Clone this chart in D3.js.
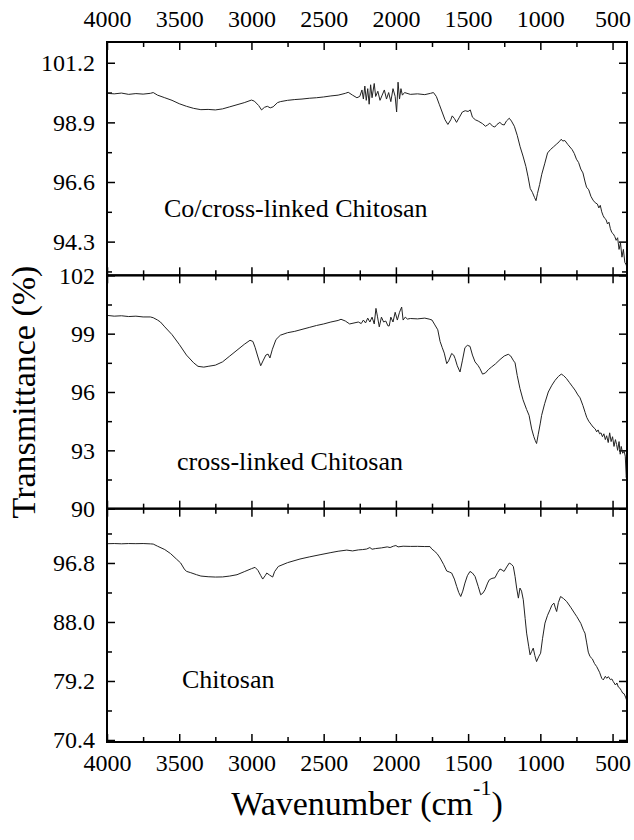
<!DOCTYPE html>
<html>
<head>
<meta charset="utf-8">
<script src="https://cdn.jsdelivr.net/npm/d3@7"></script>
<style>
  body { margin: 0; background: #fff; }
</style>
</head>
<body>
<svg id="chart" width="634" height="840"></svg>
<script>
// FTIR spectra, [wavenumber cm-1, transmittance %]
const coCrossLinked = [
  [4000, 100.02], [3950, 100.0], [3900, 100.03], [3850, 99.98], [3800, 100.01], [3750, 99.99],
  [3700, 100.02], [3680, 100.05], [3650, 99.95], [3600, 99.85], [3550, 99.75], [3500, 99.62],
  [3450, 99.52], [3400, 99.44], [3350, 99.39], [3300, 99.4], [3250, 99.38], [3200, 99.42],
  [3150, 99.5], [3100, 99.58], [3050, 99.66], [3000, 99.76], [2980, 99.72], [2950, 99.55],
  [2930, 99.38], [2910, 99.48], [2890, 99.52], [2870, 99.46], [2850, 99.5], [2820, 99.66],
  [2800, 99.7], [2750, 99.75], [2700, 99.78], [2650, 99.8], [2600, 99.83], [2550, 99.85],
  [2500, 99.88], [2450, 99.92], [2400, 99.95], [2350, 100.02], [2330, 100.06], [2300, 99.95],
  [2270, 99.85], [2250, 99.9], [2235, 100.15], [2225, 99.8], [2215, 100.3], [2205, 99.75],
  [2195, 100.2], [2185, 99.6], [2175, 100.35], [2165, 99.85], [2150, 100.4], [2140, 99.9],
  [2125, 100.1], [2110, 99.75], [2095, 99.95], [2080, 100.15], [2065, 99.8], [2050, 100.05],
  [2035, 99.7], [2020, 100.2], [2005, 99.9], [1995, 99.3], [1985, 100.45], [1975, 99.8],
  [1965, 100.2], [1955, 99.95], [1940, 100.05], [1900, 99.98], [1850, 100.0], [1800, 99.97],
  [1760, 100.02], [1740, 100.05], [1720, 99.9], [1700, 99.6], [1680, 99.3], [1660, 99.0],
  [1640, 98.82], [1620, 99.0], [1610, 99.15], [1595, 99.05], [1580, 98.9], [1560, 99.1],
  [1540, 99.3], [1520, 99.35], [1500, 99.32], [1485, 99.38], [1470, 99.1], [1450, 99.0],
  [1430, 98.95], [1400, 98.85], [1380, 98.75], [1365, 98.8], [1350, 98.87], [1330, 98.75],
  [1315, 98.72], [1300, 98.82], [1280, 98.9], [1265, 98.82], [1250, 98.8], [1235, 98.95],
  [1215, 99.06], [1200, 98.95], [1180, 98.75], [1160, 98.4], [1140, 97.96], [1120, 97.6],
  [1100, 97.2], [1085, 96.8], [1070, 96.35], [1055, 96.2], [1040, 96.0], [1030, 95.88],
  [1020, 96.15], [1005, 96.5], [990, 96.9], [970, 97.3], [950, 97.72], [930, 97.85],
  [910, 97.95], [890, 98.05], [870, 98.15], [855, 98.25], [845, 98.18], [830, 98.2],
  [810, 98.05], [795, 97.95], [780, 97.85], [765, 97.7], [750, 97.48], [735, 97.35],
  [720, 97.1], [705, 96.95], [690, 96.6], [680, 96.4], [665, 96.3], [650, 96.05],
  [635, 95.9], [620, 95.8], [605, 95.75], [595, 95.6], [585, 95.7], [575, 95.45],
  [565, 95.3], [555, 95.2], [545, 95.15], [535, 94.98], [525, 95.05], [515, 94.8],
  [505, 94.65], [495, 94.6], [485, 94.5], [475, 94.35], [465, 94.45], [455, 94.0],
  [445, 94.25], [435, 93.7], [425, 94.0], [415, 93.5], [405, 93.4], [400, 93.25]
];

const crossLinked = [
  [4000, 99.94], [3950, 99.9], [3900, 99.92], [3850, 99.88], [3800, 99.9], [3750, 99.86],
  [3700, 99.86], [3680, 99.82], [3650, 99.7], [3630, 99.6], [3600, 99.35], [3550, 98.95],
  [3500, 98.45], [3450, 97.9], [3400, 97.5], [3370, 97.32], [3330, 97.28], [3300, 97.32],
  [3250, 97.38], [3200, 97.55], [3150, 97.85], [3100, 98.15], [3050, 98.45], [3010, 98.66],
  [2990, 98.6], [2975, 98.3], [2955, 97.8], [2936, 97.35], [2920, 97.6], [2900, 97.9],
  [2885, 97.95], [2872, 97.75], [2855, 98.2], [2830, 98.7], [2800, 98.92], [2750, 99.05],
  [2700, 99.12], [2650, 99.22], [2600, 99.32], [2550, 99.42], [2500, 99.5], [2450, 99.6],
  [2400, 99.68], [2380, 99.74], [2350, 99.65], [2320, 99.5], [2290, 99.55], [2260, 99.6],
  [2240, 99.52], [2225, 99.7], [2210, 99.55], [2195, 99.8], [2180, 99.6], [2165, 99.85],
  [2150, 99.5], [2138, 100.3], [2128, 99.9], [2115, 99.35], [2100, 99.85], [2085, 99.6],
  [2070, 99.65], [2055, 99.4], [2046, 99.4], [2035, 99.85], [2020, 99.6], [2005, 100.1],
  [1990, 99.7], [1975, 100.1], [1960, 100.37], [1950, 99.7], [1935, 99.85], [1920, 99.75],
  [1900, 99.78], [1850, 99.76], [1800, 99.8], [1770, 99.75], [1750, 99.7], [1730, 99.45],
  [1710, 99.2], [1694, 98.6], [1680, 98.3], [1665, 98.0], [1648, 97.46], [1635, 97.6],
  [1614, 97.98], [1600, 97.9], [1590, 97.72], [1575, 97.35], [1556, 97.03], [1540, 97.6],
  [1522, 98.28], [1505, 98.4], [1487, 98.35], [1470, 97.9], [1452, 97.55], [1430, 97.35],
  [1418, 97.2], [1400, 96.92], [1380, 96.98], [1360, 97.15], [1337, 97.29], [1310, 97.45],
  [1279, 97.67], [1250, 97.85], [1222, 97.94], [1205, 97.85], [1185, 97.6], [1175, 97.5],
  [1160, 96.85], [1141, 96.18], [1120, 95.6], [1095, 95.1], [1078, 94.8], [1060, 94.1],
  [1045, 93.7], [1035, 93.5], [1026, 93.35], [1015, 93.8], [1000, 94.4], [991, 94.8],
  [970, 95.4], [945, 96.0], [920, 96.35], [898, 96.6], [875, 96.8], [855, 96.92],
  [840, 96.85], [820, 96.7], [800, 96.5], [780, 96.3], [760, 96.1], [740, 95.85],
  [725, 95.7], [705, 95.3], [690, 94.95], [679, 94.7], [665, 94.5], [650, 94.35],
  [635, 94.2], [620, 94.1], [610, 93.95], [600, 94.05], [590, 93.85], [580, 93.9],
  [570, 93.7], [560, 93.85], [550, 93.55], [541, 93.75], [530, 93.4], [520, 93.9],
  [510, 93.45], [500, 93.7], [490, 93.2], [480, 93.55], [472, 93.3], [465, 93.0],
  [455, 93.45], [447, 92.8], [440, 93.2], [430, 92.85], [420, 92.95], [412, 92.7],
  [405, 91.6], [400, 91.9]
];

const chitosan = [
  [4000, 99.67], [3950, 99.7], [3900, 99.66], [3850, 99.7], [3800, 99.68], [3750, 99.7],
  [3700, 99.65], [3680, 99.62], [3650, 99.3], [3600, 98.8], [3560, 98.2], [3520, 97.4],
  [3490, 96.8], [3465, 95.9], [3450, 95.55], [3420, 95.35], [3380, 95.05], [3350, 94.85],
  [3300, 94.75], [3250, 94.7], [3200, 94.72], [3150, 94.85], [3100, 95.05], [3050, 95.5],
  [3000, 95.95], [2975, 96.15], [2955, 95.7], [2935, 94.9], [2922, 94.4], [2905, 94.9],
  [2894, 95.3], [2875, 95.0], [2853, 94.7], [2840, 95.5], [2814, 96.28], [2750, 96.85],
  [2664, 97.39], [2600, 97.7], [2525, 98.03], [2450, 98.35], [2400, 98.55], [2340, 98.72],
  [2300, 98.6], [2260, 98.75], [2230, 98.8], [2202, 98.88], [2180, 99.1], [2165, 98.85],
  [2140, 98.95], [2100, 99.05], [2060, 99.2], [2040, 99.1], [2018, 99.3], [2000, 99.4],
  [1985, 99.2], [1950, 99.3], [1900, 99.27], [1850, 99.28], [1800, 99.25], [1764, 99.25],
  [1752, 98.9], [1735, 98.6], [1715, 98.2], [1694, 97.54], [1670, 96.6], [1648, 95.6],
  [1630, 95.45], [1614, 95.3], [1595, 94.4], [1579, 93.3], [1565, 92.4], [1551, 91.8],
  [1537, 92.6], [1522, 93.8], [1505, 94.9], [1487, 95.54], [1470, 95.3], [1452, 94.79],
  [1430, 93.3], [1413, 92.06], [1398, 92.3], [1383, 92.8], [1365, 93.8], [1353, 94.3],
  [1335, 94.5], [1314, 94.6], [1295, 95.4], [1279, 95.9], [1265, 95.75], [1251, 95.54],
  [1233, 96.2], [1215, 96.79], [1200, 96.6], [1187, 96.28], [1175, 94.8], [1164, 93.06],
  [1152, 91.56], [1141, 93.06], [1130, 92.6], [1118, 91.31], [1105, 88.5], [1095, 86.34],
  [1080, 84.3], [1071, 83.1], [1060, 83.6], [1049, 84.1], [1038, 83.0], [1026, 82.09],
  [1012, 82.8], [998, 83.35], [985, 85.5], [968, 87.83], [950, 89.0], [933, 89.82],
  [920, 90.5], [906, 90.82], [896, 90.1], [887, 89.56], [875, 90.9], [860, 91.8],
  [840, 91.5], [818, 91.06], [790, 90.2], [760, 89.2], [748, 88.82], [720, 87.8],
  [700, 86.7], [691, 86.34], [680, 85.0], [668, 83.5], [656, 82.84], [640, 82.5],
  [625, 81.8], [610, 81.35], [590, 80.5], [575, 79.6], [564, 79.36], [550, 79.9],
  [540, 79.6], [529, 79.85], [515, 79.4], [505, 79.5], [495, 79.11], [480, 78.6],
  [470, 78.9], [460, 78.3], [449, 78.12], [440, 77.8], [430, 77.4], [420, 77.3],
  [410, 76.8], [403, 76.37], [400, 76.3]
];

const sampleNames = ["Co/cross-linked Chitosan", "cross-linked Chitosan", "Chitosan"];

const xTicks = [4000, 3500, 3000, 2500, 2000, 1500, 1000, 500];
const xMinorTicks = [3750, 3250, 2750, 2250, 1750, 1250, 750];

const yTicks = [
  [94.3, 96.6, 98.9, 101.2],
  [90, 93, 96, 99, 102],
  [70.4, 79.2, 88.0, 96.8]
];
const yMinorTicks = [
  [93.15, 95.45, 97.75, 100.05],
  [91.5, 94.5, 97.5, 100.5],
  [74.8, 83.6, 92.4, 101.2]
];
const yFormats = [".1f", "d", ".1f"];

const serif = "'Liberation Serif', 'DejaVu Serif', serif";

const svg = d3.select("#chart");
const plot = { left: 107, right: 627, top: 42, bottom: 742 };
const panelH = (plot.bottom - plot.top) / 3;

const x = d3.scaleLinear().domain([4000, 400]).range([plot.left, plot.right]);

const panels = [
  { data: coCrossLinked, domain: [93.0, 102.0], label: [164, 175] },
  { data: crossLinked, domain: [90, 102], label: [177, 195] },
  { data: chitosan, domain: [70.1, 104.9], label: [182, 179] }
];

const major = 8, minor = 5;

function styleAxis(g) {
  g.select(".domain").remove();
  g.attr("font-family", serif).attr("font-size", 24);
  g.selectAll("line").attr("stroke", "#000").attr("stroke-width", 1.5);
  g.selectAll("text").attr("fill", "#000")
    .style("font-family", serif).style("font-size", "24px");
}

panels.forEach((p, i) => {
  const top = plot.top + i * panelH;
  const bottom = top + panelH;
  const y = d3.scaleLinear().domain(p.domain).range([bottom, top]);
  const g = svg.append("g");

  // left axis, labelled
  g.append("g")
    .attr("transform", `translate(${plot.left},0)`)
    .call(d3.axisLeft(y).tickValues(yTicks[i]).tickSize(-major).tickPadding(12)
      .tickFormat(d3.format(yFormats[i])))
    .call(styleAxis);
  g.append("g")
    .attr("transform", `translate(${plot.left},0)`)
    .call(d3.axisLeft(y).tickValues(yMinorTicks[i]).tickSize(-minor).tickFormat(""))
    .call(styleAxis);

  // right axis, ticks only
  g.append("g")
    .attr("transform", `translate(${plot.right},0)`)
    .call(d3.axisRight(y).tickValues(yTicks[i]).tickSize(-major).tickFormat(""))
    .call(styleAxis);
  g.append("g")
    .attr("transform", `translate(${plot.right},0)`)
    .call(d3.axisRight(y).tickValues(yMinorTicks[i]).tickSize(-minor).tickFormat(""))
    .call(styleAxis);

  // top and bottom ticks, labels only on the outer edges
  g.append("g")
    .attr("transform", `translate(0,${top})`)
    .call(d3.axisTop(x).tickValues(xTicks).tickSize(-major).tickPadding(15)
      .tickFormat(i === 0 ? d3.format("d") : ""))
    .call(styleAxis);
  g.append("g")
    .attr("transform", `translate(0,${top})`)
    .call(d3.axisTop(x).tickValues(xMinorTicks).tickSize(-minor).tickFormat(""))
    .call(styleAxis);
  g.append("g")
    .attr("transform", `translate(0,${bottom})`)
    .call(d3.axisBottom(x).tickValues(xTicks).tickSize(-major).tickPadding(12)
      .tickFormat(i === 2 ? d3.format("d") : ""))
    .call(styleAxis);
  g.append("g")
    .attr("transform", `translate(0,${bottom})`)
    .call(d3.axisBottom(x).tickValues(xMinorTicks).tickSize(-minor).tickFormat(""))
    .call(styleAxis);

  const line = d3.line().x(d => x(d[0])).y(d => y(d[1]));
  g.append("path")
    .datum(p.data)
    .attr("fill", "none")
    .attr("stroke", "#222")
    .attr("stroke-width", 1)
    .attr("stroke-linejoin", "round")
    .attr("d", line);

  g.append("text")
    .attr("x", p.label[0])
    .attr("y", top + p.label[1])
    .style("font-family", serif)
    .style("font-size", "26px")
    .text(sampleNames[i]);

  g.append("rect")
    .attr("x", plot.left)
    .attr("y", top)
    .attr("width", plot.right - plot.left)
    .attr("height", panelH)
    .attr("fill", "none")
    .attr("stroke", "#000")
    .attr("stroke-width", 2);
});

svg.append("text")
  .attr("transform", `translate(35,${(plot.top + plot.bottom) / 2}) rotate(-90)`)
  .attr("text-anchor", "middle")
  .style("font-family", serif)
  .style("font-size", "34px")
  .text("Transmittance (%)");

const xTitle = svg.append("text")
  .attr("x", (plot.left + plot.right) / 2)
  .attr("y", 815)
  .attr("text-anchor", "middle")
  .style("font-family", serif)
  .style("font-size", "34px");
xTitle.append("tspan").text("Wavenumber (cm");
xTitle.append("tspan").attr("dy", -20).style("font-size", "22px").text("-1");
xTitle.append("tspan").attr("dy", 20).text(")");
</script>
</body>
</html>
